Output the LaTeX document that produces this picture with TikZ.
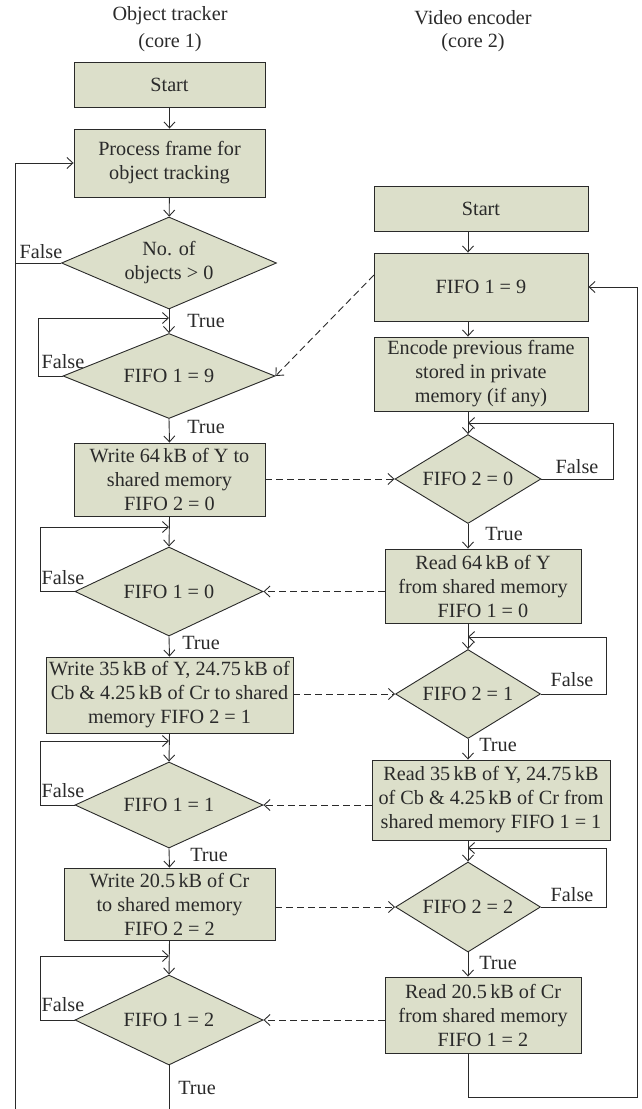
\documentclass[tikz,border=0pt]{standalone}
\usepackage{fontspec}
\setmainfont{Liberation Serif}
\usetikzlibrary{arrows.meta,shapes.geometric}
\definecolor{boxfill}{HTML}{DCDFCA}
\definecolor{ink}{HTML}{2A2A2A}
\begin{document}
\begin{tikzpicture}[x=1pt,y=-1pt,
  every node/.style={font=\fontsize{20.2}{24}\selectfont, text=ink},
  proc/.style={draw=ink, fill=boxfill, line width=0.9pt, align=center, inner sep=0pt},
  cond/.style={diamond, draw=ink, fill=boxfill, line width=0.9pt, align=center, inner sep=0pt},
  arr/.style={-{Straight Barb[length=6pt,width=11pt]}, draw=ink, line width=0.9pt},
  link/.style={draw=ink, line width=0.9pt},
  dashlink/.style={arr, dash pattern=on 7pt off 4pt},
  lbl/.style={inner sep=0pt}
]
\useasboundingbox (0,0) rectangle (641,1109);
% titles
\node[lbl] (t1a) at (170,16) {Object tracker};
\node[lbl] (t1b) at (170,43) {(core 1)};
\node[lbl] (t2a) at (473,18) {Video encoder};
\node[lbl] (t2b) at (473,43) {(core 2)};
% left column
\node[proc, minimum width=191, minimum height=45] (s1) at (169.5,84.5) {Start};
\node[proc, minimum width=191, minimum height=68] (p1) at (169.5,163) {Process frame for\\object tracking};
\node[cond, minimum width=215, minimum height=92, aspect=2.3] (d1) at (169,263) {No. of\\objects > 0};
\node[cond, minimum width=212, minimum height=85, aspect=2.5] (d2) at (169,376) {FIFO 1 = 9};
\node[proc, minimum width=191, minimum height=73] (w1) at (169.5,479.5) {Write 64\,kB of Y to\\shared memory\\FIFO 2 = 0};
\node[cond, minimum width=188, minimum height=89, aspect=2.1] (d3) at (169,591.5) {FIFO 1 = 0};
\node[proc, minimum width=247, minimum height=76] (w2) at (169.5,695) {Write 35\,kB of Y, 24.75\,kB of\\Cb \& 4.25\,kB of Cr to shared\\memory FIFO 2 = 1};
\node[cond, minimum width=188, minimum height=86, aspect=2.1] (d4) at (169,805) {FIFO 1 = 1};
\node[proc, minimum width=211, minimum height=72] (w3) at (169.5,904) {Write 20.5\,kB of Cr\\to shared memory\\FIFO 2 = 2};
\node[cond, minimum width=188, minimum height=90, aspect=2.1] (d5) at (169,1020) {FIFO 1 = 2};
% right column
\node[proc, minimum width=214, minimum height=45] (s2) at (481,208.5) {Start};
\node[proc, minimum width=214, minimum height=68] (r1) at (481,287) {FIFO 1 = 9};
\node[proc, minimum width=214, minimum height=74] (e1) at (481,374) {Encode previous frame\\stored in private\\memory (if any)};
\node[cond, minimum width=146, minimum height=89, aspect=1.6] (q1) at (468,479) {FIFO 2 = 0};
\node[proc, minimum width=196, minimum height=74] (r2) at (483,586) {Read 64\,kB of Y\\from shared memory\\FIFO 1 = 0};
\node[cond, minimum width=145, minimum height=89, aspect=1.6] (q2) at (468,694) {FIFO 2 = 1};
\node[proc, minimum width=238, minimum height=80] (r3) at (491,800) {Read 35\,kB of Y, 24.75\,kB\\of Cb \& 4.25\,kB of Cr from\\shared memory FIFO 1 = 1};
\node[cond, minimum width=145, minimum height=90, aspect=1.6] (q3) at (468,907) {FIFO 2 = 2};
\node[proc, minimum width=196, minimum height=76] (r4) at (483,1015) {Read 20.5\,kB of Cr\\from shared memory\\FIFO 1 = 2};
% helper coordinates
\coordinate (rx) at (468,0);
\coordinate (lb) at (15,1109);
\coordinate (db) at (169,1109);
\coordinate (j2) at (169,318);
\coordinate (j3) at (169,527);
\coordinate (j4) at (169,741);
\coordinate (j5) at (169,956);
\coordinate (k1) at (468,423);
\coordinate (k2) at (468,637);
\coordinate (k3) at (468,848);
\coordinate (rb) at (637,1097);
\coordinate (rs) at (374,275);
% left flow
\draw[arr] (s1) -- (p1);
\draw[arr] (p1) -- (d1);
\draw[link] (d1.west) -- (d1.west -| lb);
\draw[arr] (lb) |- (p1.west);
\draw[arr] (d1.south) -- (d2.north);
\draw[arr] (d2.west) -- ++(-24,0) |- (j2);
\draw[arr] (d2.south) -- (w1.north);
\draw[arr] (w1.south) -- (d3.north);
\draw[arr] (d3.west) -- ++(-34,0) |- (j3);
\draw[arr] (d3.south) -- (w2.north);
\draw[arr] (w2.south) -- (d4.north);
\draw[arr] (d4.west) -- ++(-34,0) |- (j4);
\draw[arr] (d4.south) -- (w3.north);
\draw[arr] (w3.south) -- (d5.north);
\draw[arr] (d5.west) -- ++(-34,0) |- (j5);
\draw[link] (d5.south) -- (db);
% right flow
\draw[arr] (s2.south -| rx) -- (r1.north -| rx);
\draw[arr] (r1.south -| rx) -- (e1.north -| rx);
\draw[arr] (e1.south -| rx) -- (q1.north);
\draw[arr] (q1.east) -- ++(72,0) |- (k1);
\draw[arr] (q1.south) -- (r2.north -| rx);
\draw[arr] (r2.south -| rx) -- (q2.north);
\draw[arr] (q2.east) -- ++(65,0) |- (k2);
\draw[arr] (q2.south) -- (r3.north -| rx);
\draw[arr] (r3.south -| rx) -- (q3.north);
\draw[arr] (q3.east) -- ++(65,0) |- (k3);
\draw[arr] (q3.south) -- (r4.north -| rx);
\draw[arr] (r4.south -| rx) |- (rb) |- (r1.east);
% dashed links
\draw[dashlink] (rs) -- (d2.east);
\draw[dashlink] (w1.east |- q1.west) -- (q1.west);
\draw[dashlink] (r2.west |- d3.east) -- (d3.east);
\draw[dashlink] (w2.east |- q2.west) -- (q2.west);
\draw[dashlink] (r3.west |- d4.east) -- (d4.east);
\draw[dashlink] (w3.east |- q3.west) -- (q3.west);
\draw[dashlink] (r4.west |- d5.east) -- (d5.east);
% labels
\node[lbl] (f1) at (41,252) {False};
\node[lbl] (f2) at (63,362) {False};
\node[lbl] (f3) at (63,578) {False};
\node[lbl] (f4) at (63,791) {False};
\node[lbl] (f5) at (63,1005) {False};
\node[lbl] (g1) at (206,321) {True};
\node[lbl] (g2) at (206,427) {True};
\node[lbl] (g3) at (201,643) {True};
\node[lbl] (g4) at (209,855) {True};
\node[lbl] (g5) at (197,1088) {True};
\node[lbl] (f6) at (577,467) {False};
\node[lbl] (f7) at (572,680) {False};
\node[lbl] (f8) at (572,895) {False};
\node[lbl] (g6) at (504,534) {True};
\node[lbl] (g7) at (498,745) {True};
\node[lbl] (g8) at (498,963) {True};
\end{tikzpicture}
\end{document}
